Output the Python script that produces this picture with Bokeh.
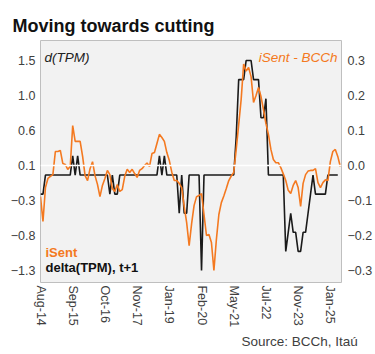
import math
from bokeh.plotting import figure
from bokeh.models import Range1d, LinearAxis, FixedTicker, Span, Label, Title
from bokeh.embed import file_html
from bokeh.resources import INLINE

# ---- data ----
tick_labels = ["Aug-14", "Sep-15", "Oct-16", "Nov-17", "Jan-19", "Feb-20",
               "May-21", "Jul-22", "Nov-23", "Jan-25"]
obs_per_tick = 13

# delta(TPM), t+1  (left axis, pp)
dtpm = [
    -0.25, -0.25, 0, 0, 0, 0, 0, 0, 0, 0,
    0, 0, 0, 0.25, 0, 0.25, 0, 0, 0, 0,
    0, 0, 0, 0, 0, 0, 0, 0, -0.25, 0,
    -0.25, -0.25, 0, 0, 0, 0, 0, 0, 0, 0,
    0, 0, 0, 0, 0, 0, 0, 0, 0.25, 0,
    0.25, 0, 0, 0, 0, 0, -0.5, 0, -0.5, -0.5,
    0, 0, 0, 0, 0, -1.25, 0, 0, 0, 0,
    0, 0, 0, 0, 0, 0, 0, 0, 0, 0.5,
    1.25, 1.25, 1.25, 1.5, 1.5, 1.5, 1.25, 1.25, 1.25, 0.75,
    0.75, 1.0, 0, 0, 0, 0, 0, 0, 0, -1.0,
    -0.75, -0.5, -0.75, -0.75, -1.0, -1.0, -0.75, -0.75, -0.5, -0.25,
    0, -0.25, -0.25, -0.25, -0.25, -0.25, 0, 0, 0, 0, 0,
]

# iSent - BCCh (right axis)
isent = [
    -0.089, -0.16, -0.063, -0.037, -0.031, -0.026, 0.04, 0.04, 0.043, 0.006,
    0.003, -0.011, -0.003, 0.114, 0.069, 0.069, 0.069, 0.026, -0.029, -0.043,
    -0.009, 0.011, -0.029, -0.054, -0.089, -0.057, -0.037, -0.014, -0.026, -0.066,
    -0.074, -0.054, -0.074, -0.069, -0.031, -0.011, -0.02, -0.011, -0.023, -0.034,
    -0.014, -0.009, 0.0, 0.007, -0.003, 0.034, 0.037, 0.063, 0.089, 0.08,
    0.069, 0.037, 0.014, -0.019, -0.043, -0.043, -0.051, -0.063, -0.117, -0.163,
    -0.229, -0.166, -0.114, -0.089, -0.086, -0.08, -0.14, -0.2, -0.197, -0.22,
    -0.3, -0.211, -0.14, -0.106, -0.087, -0.066, -0.043, -0.03, -0.02, 0.046,
    0.117, 0.189, 0.29, 0.27, 0.28, 0.254, 0.18, 0.2, 0.223, 0.197,
    0.16, 0.12, 0.089, 0.046, 0.017, 0.008, 0.008, -0.006, -0.024, -0.043,
    -0.071, -0.08, -0.057, -0.043, -0.063, -0.117, -0.051, -0.026, -0.016, -0.014,
    -0.014, -0.009, -0.049, -0.063, -0.049, -0.041, -0.043, 0.011, 0.04, 0.046, 0.026, -0.003,
]

left_tick_labels = ["−1.3", "−0.8", "−0.3", "0.1", "0.6", "1.0", "1.5"]
right_ticks = [-0.3, -0.2, -0.1, 0.0, 0.1, 0.2, 0.3]
right_tick_labels = ["−0.3", "−0.2", "−0.1", "0.0", "0.1", "0.2", "0.3"]

x_dtpm = list(range(len(dtpm)))
x_isent = list(range(len(isent)))

# ---- figure ----
FONT = "Liberation Sans"
ORANGE = "#F47920"
AXCOL = "#404040"

left_min, left_max = -1.25, 1.5
left_step = (left_max - left_min) / 6
left_ticks = [round(left_min + k * left_step, 4) for k in range(7)]

p = figure(width=375, height=354, output_backend="svg", toolbar_location=None,
           x_range=Range1d(0, 121.5),
           y_range=Range1d(left_min - 12 / 76.4, left_max + 20 / 76.4),
           min_border_left=40, min_border_right=34, min_border_top=40,
           min_border_bottom=72)
p.extra_y_ranges = {"r": Range1d(-0.3 - 12 / 350.0, 0.3 + 20 / 350.0)}

p.background_fill_color = "#f2f2f2"
p.border_fill_color = "white"
p.outline_line_color = "#bfbfbf"
p.outline_line_width = 1
p.xgrid.visible = False
p.ygrid.visible = False

def style_axis(ax, standoff):
    ax.axis_line_color = None
    ax.major_tick_line_color = None
    ax.minor_tick_line_color = None
    ax.major_tick_out = 0
    ax.major_tick_in = 0
    ax.minor_tick_out = 0
    ax.minor_tick_in = 0
    ax.major_label_text_font = FONT
    ax.major_label_text_font_size = "12.5px"
    ax.major_label_text_color = AXCOL
    ax.major_label_standoff = standoff

# left axis
ly = p.yaxis[0]
ly.ticker = FixedTicker(ticks=left_ticks)
ly.major_label_overrides = {t: s for t, s in zip(left_ticks, left_tick_labels)}
style_axis(ly, 5)

# right axis
ry = LinearAxis(y_range_name="r")
ry.ticker = FixedTicker(ticks=right_ticks)
ry.major_label_overrides = {t: s for t, s in zip(right_ticks, right_tick_labels)}
style_axis(ry, 6)
p.add_layout(ry, "right")

# bottom axis (labels read top to bottom)
xt = [i * obs_per_tick for i in range(len(tick_labels))]
xa = p.xaxis[0]
xa.ticker = FixedTicker(ticks=xt)
xa.major_label_overrides = {t: s for t, s in zip(xt, tick_labels)}
xa.major_label_orientation = -math.pi / 2
style_axis(xa, 3)

# title and source
p.add_layout(Title(text="Moving towards cutting", align="left", offset=-28,
                   text_font=FONT, text_font_size="18px", text_font_style="bold",
                   text_color="#111111", standoff=10), "above")
p.add_layout(Title(text="Source: BCCh, Itaú", align="left", offset=201,
                   text_font=FONT, text_font_size="13.5px", text_font_style="normal",
                   text_color=AXCOL, standoff=2), "below")

# white zero line of the right axis
p.add_layout(Span(location=0, dimension="width", y_range_name="r",
                  line_color="white", line_width=1.5))

# series
p.line(x_dtpm, dtpm, line_color="#1a1a1a", line_width=1.6)
p.line(x_isent, isent, y_range_name="r", line_color=ORANGE, line_width=1.6)

# texts inside the frame (screen units relative to the frame's bottom-left)
def lab(text, x, y, size, color, style="normal", align="left"):
    p.add_layout(Label(x=x, y=y, x_units="screen", y_units="screen", text=text,
                       text_font=FONT, text_font_size=size, text_color=color,
                       text_font_style=style, text_align=align,
                       text_baseline="alphabetic"))

lab("d(TPM)", 4, 225, "13.5px", "#222222", "italic")
lab("iSent - BCCh", 297, 225, "13.5px", ORANGE, "italic", "right")
lab("iSent", 5, 30, "13px", ORANGE, "bold")
lab("delta(TPM), t+1", 5, 15, "13px", "#111111", "bold")

open("out.html", "w").write(file_html(p, INLINE))
